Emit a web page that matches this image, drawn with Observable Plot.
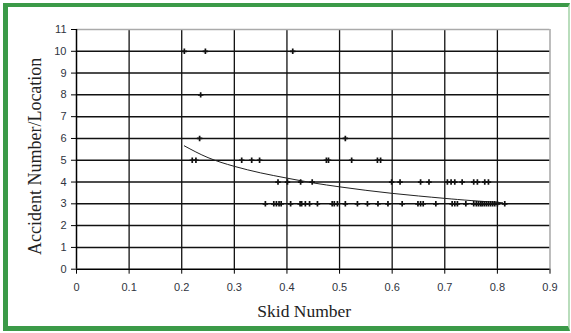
<!DOCTYPE html>
<html>
<head>
<meta charset="utf-8">
<script src="https://cdn.jsdelivr.net/npm/d3@7"></script>
<script src="https://cdn.jsdelivr.net/npm/@observablehq/plot@0.6"></script>
<style>
  html, body { margin: 0; padding: 0; background: #fff; }
  #wrap { position: relative; width: 571px; height: 333px; overflow: hidden; }
  #frame {
    position: absolute; left: 3px; top: 3px; width: 560px; height: 319px;
    border-left: 5px solid #3b9a48; border-top: 4px solid #3b9a48;
    border-bottom: 5px solid #3b9a48; border-right: 2px solid #b9ddbc;
    pointer-events: none;
  }
  svg { display: block; overflow: visible; }
</style>
</head>
<body>
<div id="wrap"><div id="frame"></div></div>
<script>
// Tick values
const xTicks = [0, 0.1, 0.2, 0.3, 0.4, 0.5, 0.6, 0.7, 0.8, 0.9];
const yTicks = [0, 1, 2, 3, 4, 5, 6, 7, 8, 9, 10, 11];

// Observed sites: skid number and accident number per location
const row10 = [0.205, 0.245, 0.411];
const row8 = [0.236];
const row6 = [0.234, 0.511];
const row5 = [0.220, 0.227, 0.314, 0.333, 0.348, 0.475, 0.479, 0.523, 0.572, 0.578];
const row4 = [0.383, 0.401, 0.426, 0.448, 0.599, 0.615, 0.654, 0.670, 0.705, 0.712,
              0.719, 0.733, 0.755, 0.762, 0.776, 0.783];
const row3 = [0.359, 0.375, 0.380, 0.385, 0.389, 0.407, 0.425, 0.428, 0.435, 0.443,
              0.458, 0.486, 0.490, 0.496, 0.511, 0.534, 0.553, 0.573, 0.592, 0.619,
              0.649, 0.654, 0.659, 0.683, 0.714, 0.719, 0.724, 0.740, 0.755, 0.760,
              0.764, 0.768, 0.771, 0.775, 0.779, 0.783, 0.787, 0.791, 0.795, 0.800, 0.814];

// Trend line
const trendSkid = [0.205, 0.25, 0.30, 0.35, 0.40, 0.45, 0.50, 0.55, 0.60, 0.65, 0.70, 0.75, 0.81];
const trendAcc  = [5.66, 5.12, 4.72, 4.42, 4.18, 3.96, 3.78, 3.62, 3.48, 3.36, 3.25, 3.15, 3.05];

const points = [
  ...row10.map(x => ({x, y: 10})),
  ...row8.map(x => ({x, y: 8})),
  ...row6.map(x => ({x, y: 6})),
  ...row5.map(x => ({x, y: 5})),
  ...row4.map(x => ({x, y: 4})),
  ...row3.map(x => ({x, y: 3}))
];
const trend = trendSkid.map((x, i) => ({x, y: trendAcc[i]}));

const plot = Plot.plot({
  width: 571,
  height: 333,
  marginLeft: 76,
  marginRight: 21.5,
  marginTop: 29,
  marginBottom: 64.3,
  style: {fontFamily: "'Liberation Sans', Arial, sans-serif", fontSize: "11px", color: "#2f3440", background: "transparent"},
  x: {domain: [0, 0.9]},
  y: {domain: [0, 11]},
  marks: [
    Plot.ruleX(xTicks.filter(d => d > 0 && d < 0.9), {stroke: "#111", strokeWidth: 1.3}),
    Plot.ruleY(yTicks.filter(d => d > 0 && d < 11), {stroke: "#111", strokeWidth: 1.5}),
    Plot.ruleX([0.9], {stroke: "#999", strokeWidth: 1.3}),
    Plot.ruleY([11], {stroke: "#aaa", strokeWidth: 1.3}),
    Plot.ruleX([0], {stroke: "#000", strokeWidth: 1.5}),
    Plot.ruleY([0], {stroke: "#000", strokeWidth: 1.5}),
    Plot.axisX({ticks: xTicks, tickFormat: d => String(d), tickSize: 5, tickPadding: 9, label: null, stroke: "#000"}),
    Plot.axisY({ticks: yTicks, tickFormat: d => String(d), tickSize: 5, tickPadding: 5, label: null, stroke: "#000"}),
    Plot.line(trend, {x: "x", y: "y", curve: "natural", stroke: "#222", strokeWidth: 1}),
    Plot.dot(points, {x: "x", y: "y", symbol: "plus", r: 1.9, stroke: "#111", strokeWidth: 1.7}),
    Plot.text(["Accident Number/Location"], {frameAnchor: "left", textAnchor: "middle", lineAnchor: "middle",
      rotate: -90, dx: -41, dy: 7,
      fontFamily: "'Liberation Serif', 'Times New Roman', serif", fontSize: 18, fill: "#222"}),
    Plot.text(["Skid Number"], {frameAnchor: "bottom", textAnchor: "middle", lineAnchor: "middle", dx: -9, dy: 42,
      fontFamily: "'Liberation Serif', 'Times New Roman', serif", fontSize: 17.5, fill: "#222"})
  ]
});
document.getElementById("wrap").insertBefore(plot, document.getElementById("frame"));
plot.style.position = "absolute";
plot.style.left = "0";
plot.style.top = "0";
</script>
</body>
</html>
